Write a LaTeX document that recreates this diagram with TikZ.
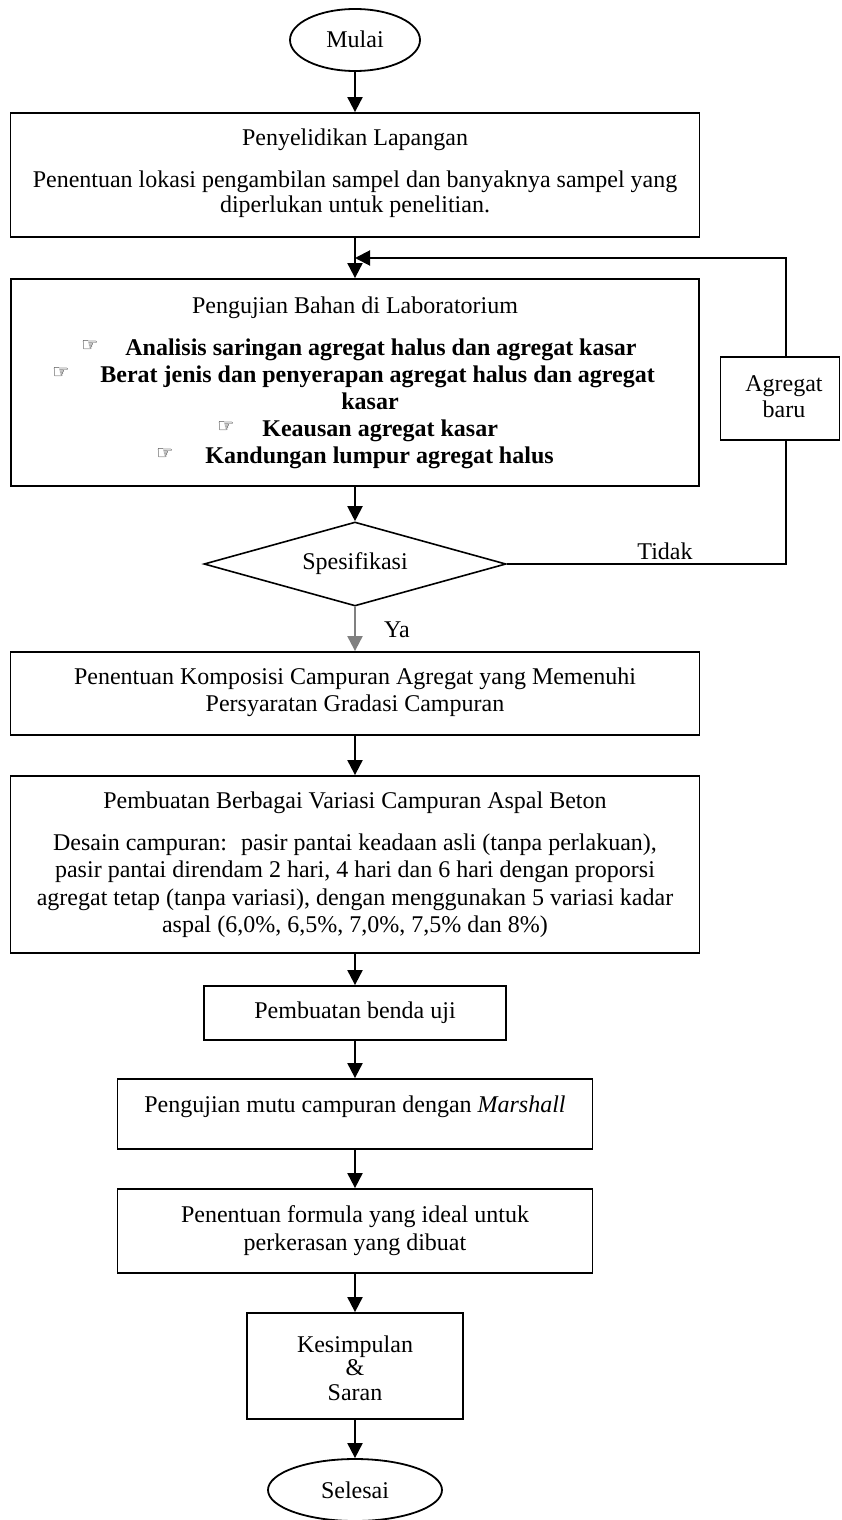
\documentclass[tikz,border=0pt]{standalone}
\usepackage{fontspec}
\setmainfont{Liberation Serif}
\newfontfamily\symfont{DejaVu Sans}
\usetikzlibrary{shapes.geometric,arrows.meta}
\begin{document}
\begin{tikzpicture}[x=0.5pt,y=-0.5pt,
  font=\fontsize{12}{13.5}\selectfont,
  box/.style={draw, line width=0.9pt, rectangle, inner sep=0pt},
  term/.style={draw, line width=0.9pt, ellipse, inner sep=0pt},
  txt/.style={inner sep=0pt, anchor=base},
  txtw/.style={inner sep=0pt, anchor=base west, font=\fontsize{12}{13.5}\selectfont\bfseries},
  hand/.style={inner sep=0pt, anchor=base west, font=\symfont\fontsize{9.5}{9.5}\selectfont},
  arr/.style={line width=1pt, -{Triangle[length=7.5pt,width=7.5pt]}},
  ln/.style={line width=1pt}]
\useasboundingbox (0,0) rectangle (841,1520);

% shapes
\node[term, minimum width=65pt, minimum height=31pt] (mulai) at (355,40) {};
\node[box, minimum width=344.5pt, minimum height=62pt] (b1) at (355,175) {};
\node[box, minimum width=344pt, minimum height=103.5pt] (b2) at (355,382.5) {};
\node[draw, line width=0.8pt, diamond, aspect=3.6, inner sep=0pt, minimum width=151pt, minimum height=42pt] (dec) at (355,564) {Spesifikasi};
\node[box, minimum width=59.5pt, minimum height=41.5pt, fill=white] (ab) at (780,398.5) {};
\node[box, minimum width=344.5pt, minimum height=41.5pt] (b3) at (355,693.5) {};
\node[box, minimum width=344.5pt, minimum height=88.5pt] (b4) at (355,864.5) {};
\node[box, minimum width=151pt, minimum height=27pt] (b5) at (355,1013) {};
\node[box, minimum width=237.5pt, minimum height=35pt] (b6) at (355,1114) {};
\node[box, minimum width=237.5pt, minimum height=42pt] (b7) at (355,1231) {};
\node[box, minimum width=108pt, minimum height=53pt] (b8) at (355,1366) {};
\node[term, minimum width=87pt, minimum height=31pt] (selesai) at (355,1490) {};

% texts
\node[txt] (tmulai) at (355,48) {Mulai};
\node[txt] (t1a) at (355,146) {Penyelidikan Lapangan};
\node[txt] (t1b) at (355,187) {Penentuan lokasi pengambilan sampel dan banyaknya sampel yang};
\node[txt] (t1c) at (355,213) {diperlukan untuk penelitian.};
\node[txt] (t2a) at (355,313) {Pengujian Bahan di Laboratorium};
\node[hand] (h1) at (81,351) {☞};
\node[txtw] (t2b) at (125,355) {Analisis saringan agregat halus dan agregat kasar};
\node[hand] (h2) at (52,378) {☞};
\node[txtw] (t2c) at (100,382) {Berat jenis dan penyerapan agregat halus dan agregat};
\node[txt, font=\fontsize{12}{13.5}\selectfont\bfseries] (t2d) at (370,409) {kasar};
\node[hand] (h3) at (217,432) {☞};
\node[txtw] (t2e) at (262,436) {Keausan agregat kasar};
\node[hand] (h4) at (156,459) {☞};
\node[txtw] (t2f) at (205,463) {Kandungan lumpur agregat halus};
\node[txt] (tab1) at (784,391) {Agregat};
\node[txt] (tab2) at (784,417) {baru};
\node[txt] (ttidak) at (665,559) {Tidak};
\node[txt] (tya) at (397,637) {Ya};
\node[txt] (t3a) at (355,684) {Penentuan Komposisi Campuran Agregat yang Memenuhi};
\node[txt] (t3b) at (355,711) {Persyaratan Gradasi Campuran};
\node[txt] (t4a) at (355,808) {Pembuatan Berbagai Variasi Campuran Aspal Beton};
\node[txt] (t4b) at (355,850) {Desain campuran:~ pasir pantai keadaan asli (tanpa perlakuan),};
\node[txt] (t4c) at (355,877) {pasir pantai direndam 2 hari, 4 hari dan 6 hari dengan proporsi};
\node[txt] (t4d) at (355,905) {agregat tetap (tanpa variasi), dengan menggunakan 5 variasi kadar};
\node[txt] (t4e) at (355,932) {aspal (6,0\%, 6,5\%, 7,0\%, 7,5\% dan 8\%)};
\node[txt] (t5) at (355,1018) {Pembuatan benda uji};
\node[txt] (t6) at (355,1112) {Pengujian mutu campuran dengan \textit{Marshall}};
\node[txt] (t7a) at (355,1222) {Penentuan formula yang ideal untuk};
\node[txt] (t7b) at (355,1250) {perkerasan yang dibuat};
\node[txt] (t8a) at (355,1352) {Kesimpulan};
\node[txt] (t8b) at (355,1375) {\&};
\node[txt] (t8c) at (355,1400) {Saran};
\node[txt] (tsel) at (355,1498) {Selesai};

% connectors
\coordinate (join) at (355,258);
\coordinate (cr) at (786,258);
\coordinate (cb) at (786,564);
\draw[arr] (mulai.south) -- (b1.north);
\draw[arr] (b1.south) -- (b2.north);
\draw[arr] (b2.south) -- (dec.north);
\draw[ln] (dec.east) -- (cb) -- (cb |- ab.south);
\draw[arr] (cb |- ab.north) -- (cr) -- (join);
\draw[arr, draw=gray, fill=gray] (dec.south) -- (b3.north);
\draw[arr] (b3.south) -- (b4.north);
\draw[arr] (b4.south) -- (b5.north);
\draw[arr] (b5.south) -- (b6.north);
\draw[arr] (b6.south) -- (b7.north);
\draw[arr] (b7.south) -- (b8.north);
\draw[arr] (b8.south) -- (selesai.north);
\end{tikzpicture}
\end{document}
